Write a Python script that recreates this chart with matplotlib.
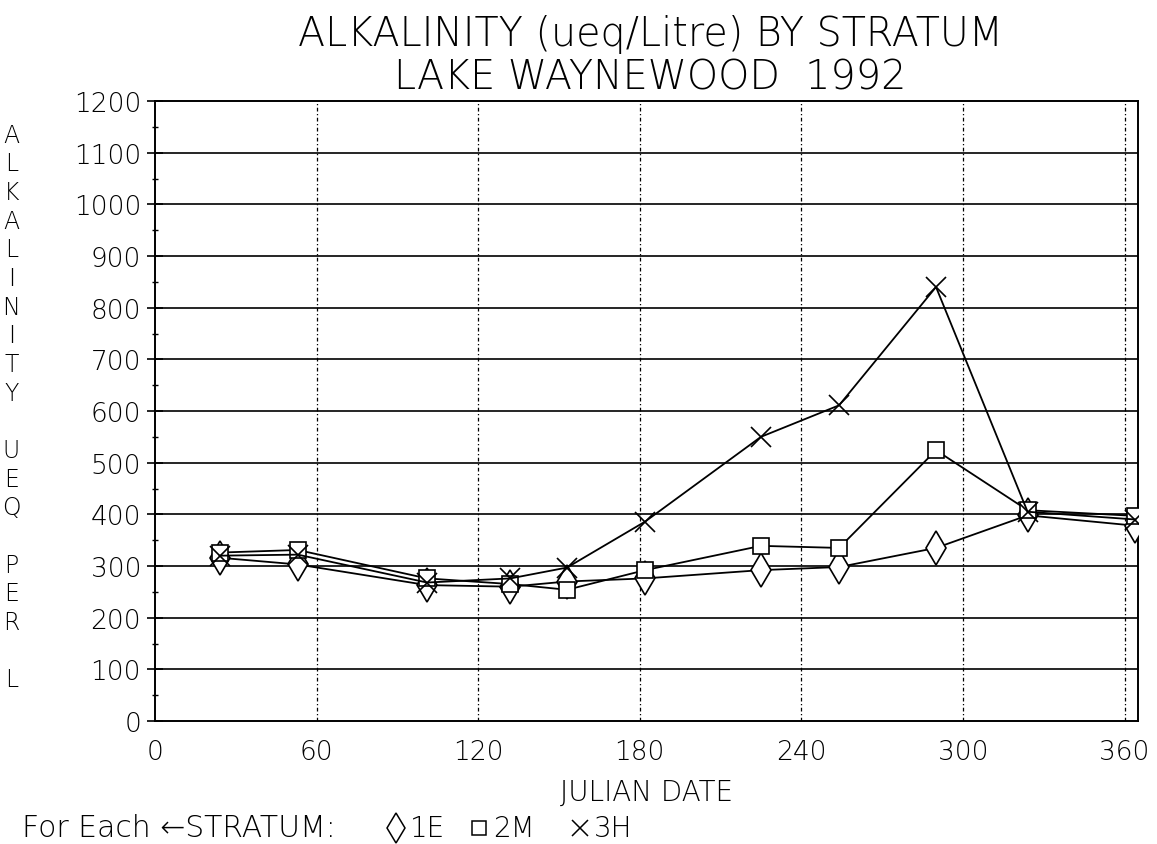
import matplotlib
matplotlib.use("Agg")
import matplotlib.pyplot as plt
from matplotlib.lines import Line2D

days = [24, 53, 101, 132, 153, 182, 225, 254, 290, 324, 364]
stratum_1E = [316, 303, 263, 260, 270, 276, 292, 298, 335, 398, 378]
stratum_2M = [326, 331, 276, 265, 254, 292, 339, 335, 524, 408, 397]
stratum_3H = [320, 322, 268, 276, 297, 386, 550, 611, 840, 405, 390]

x_ticks = [0, 60, 120, 180, 240, 300, 360]
y_ticks = list(range(0, 1201, 100))
title_lines = ["ALKALINITY (ueq/Litre) BY STRATUM", "LAKE WAYNEWOOD  1992"]
ylabel_words = ["ALKALINITY", "UEQ", "PER", "L"]
xlabel = "JULIAN DATE"

plt.rcParams['font.family'] = ['DejaVu Sans']
W = 200  # light weight

fig = plt.figure(figsize=(11.57, 8.45), dpi=100)
ax = fig.add_axes([155/1157, 1-722/845, (1138-155)/1157, (722-102)/845])

ax.plot(days, stratum_1E, color='black', lw=1.3, marker='d', ms=17,
        mfc='white', mec='black', mew=1.2, zorder=3)
ax.plot(days, stratum_2M, color='black', lw=1.3, marker='s', ms=11,
        mfc='white', mec='black', mew=1.2, zorder=4)
ax.plot(days, stratum_3H, color='black', lw=1.3, marker='x', ms=15,
        mec='black', mew=1.2, zorder=5)

ax.set_xlim(0, 365)
ax.set_ylim(0, 1200)
ax.set_xticks(x_ticks)
ax.set_yticks(y_ticks)
ax.set_yticks(list(range(50, 1200, 100)), minor=True)
ax.set_xticklabels([str(t) for t in x_ticks], fontweight=W)
ax.set_yticklabels([str(t) for t in y_ticks], fontweight=W)
ax.tick_params(axis='y', which='major', direction='inout', length=12, width=1.2,
               labelsize=19, pad=4)
ax.tick_params(axis='y', which='minor', direction='inout', length=5, width=1.0)
ax.tick_params(axis='x', which='major', direction='in', length=0, labelsize=19, pad=13)

for v in y_ticks[1:-1]:
    ax.axhline(v, color='black', lw=1.2, zorder=1)
for v in x_ticks[1:]:
    ax.axvline(v, color='black', lw=0.9, ls=(0, (3, 2, 1, 2)), zorder=1)

for sp in ax.spines.values():
    sp.set_linewidth(1.4)

fig.text(650/1157, 1-35/845, title_lines[0], ha='center', va='center',
         fontsize=28.5, fontweight=W)
fig.text(650/1157, 1-78/845, title_lines[1], ha='center', va='center',
         fontsize=28.5, fontweight=W)

# vertical stacked y label
letters = []
for i, w in enumerate(ylabel_words):
    if i > 0:
        letters.append("")
    letters.extend(list(w))
step = 55.5 / 1200
y0 = 1135 / 1200
for i, ch in enumerate(letters):
    if ch:
        ax.text(-0.146, y0 - i*step, ch, transform=ax.transAxes, ha='center',
                va='center', fontsize=17, fontweight=W)

ax.set_xlabel(xlabel, fontsize=20, labelpad=10, fontweight=W)

ty = 1 - 829/845
fs = 20
fig.text(22/1157, ty, "For Each \u2190STRATUM:", ha='left', va='center',
         fontsize=21.5, fontweight=W)
fig.add_artist(Line2D([396/1157], [ty], marker='d', ms=15, mfc='white', mec='black',
                      mew=1.1, transform=fig.transFigure))
fig.text(410/1157, ty, "1E", ha='left', va='center', fontsize=fs, fontweight=W)
fig.add_artist(Line2D([479/1157], [ty], marker='s', ms=10, mfc='white', mec='black',
                      mew=1.1, transform=fig.transFigure))
fig.text(493/1157, ty, "2M", ha='left', va='center', fontsize=fs, fontweight=W)
fig.add_artist(Line2D([580/1157], [ty], marker='x', ms=11, mec='black',
                      mew=1.1, transform=fig.transFigure))
fig.text(594/1157, ty, "3H", ha='left', va='center', fontsize=fs, fontweight=W)

fig.savefig("out.png", dpi=100, facecolor='white')
